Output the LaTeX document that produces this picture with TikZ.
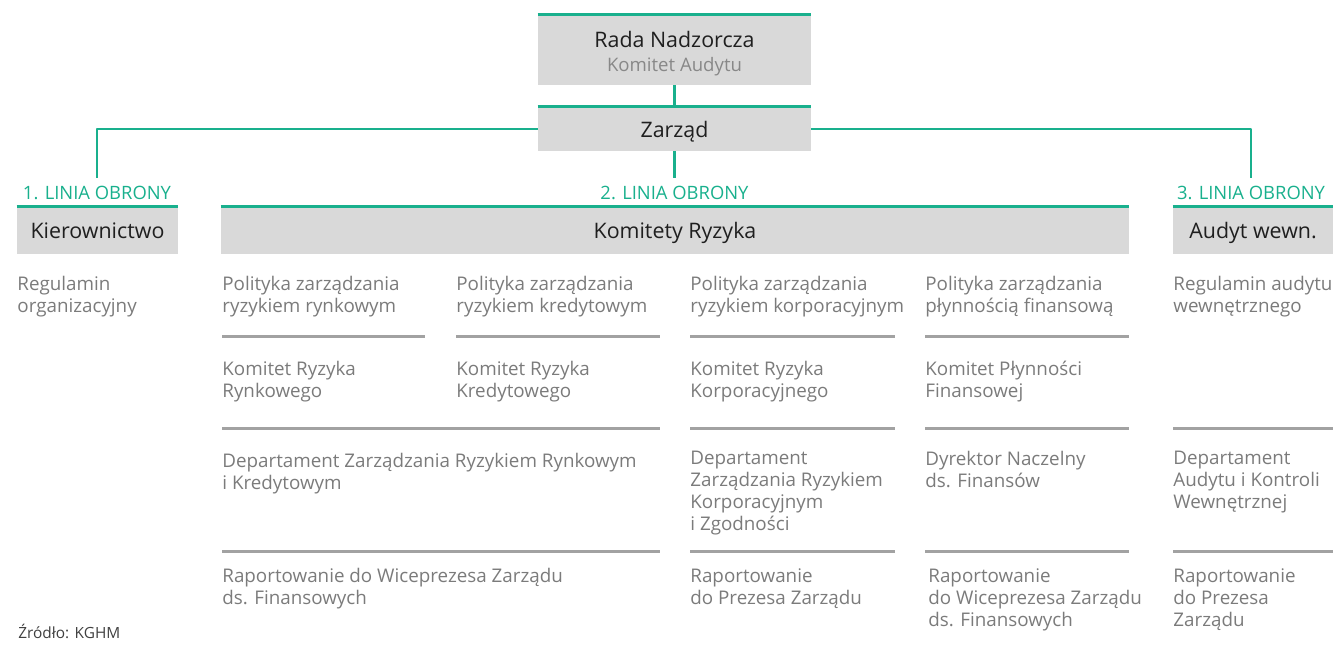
\documentclass[tikz,border=0pt]{standalone}
\usepackage{fontspec}
\setmainfont{Open Sans}
\usetikzlibrary{positioning}
\definecolor{zielony}{HTML}{19B08D}
\definecolor{tlo}{HTML}{D9D9D9}
\definecolor{szary}{HTML}{7B7B7B}
\definecolor{kreska}{HTML}{A2A2A2}
\tikzset{
	pole/.style={fill=tlo, inner sep=0pt, align=center, text=black!88, text height=8pt, text depth=0pt, font=\fontsize{10.7}{12.5}\selectfont},
	gora/.style={draw=zielony, line width=1.4pt},
	laczenie/.style={draw=zielony, line width=1.4pt},
	linia/.style={text=zielony, inner sep=0pt, outer sep=4pt, font=\fontsize{9.2}{11}\selectfont},
	opis/.style={anchor=north west, align=left, inner sep=0pt, text=szary, font=\fontsize{9.4}{11}\selectfont},
	separator/.style={draw=kreska, line width=1.5pt}
}
\begin{document}
\begin{tikzpicture}[x=0.5pt, y=-0.5pt, line join=round]
	\useasboundingbox (0,0) rectangle (1333,655);
	% pola u gory
	\node[pole, text height=21pt, minimum width=273*0.5pt, minimum height=70*0.5pt] (rada) at (674.5,50)
		{Rada Nadzorcza\\[-0.9pt]{\fontsize{9.3}{11}\selectfont\color{szary!90}Komitet Audytu}};
	\node[pole, minimum width=273*0.5pt, minimum height=44*0.5pt] (zarzad) at (674.5,129) {Zarząd};
	\node[linia] (lin1) at (97,193) {1. LINIA OBRONY};
	\node[linia] (lin2) at (674.5,193) {2. LINIA OBRONY};
	\node[linia] (lin3) at (1251,193) {3. LINIA OBRONY};
	\node[pole, minimum width=161*0.5pt, minimum height=47*0.5pt] (kier) at (97.5,230) {Kierownictwo};
	\node[pole, minimum width=908*0.5pt, minimum height=47*0.5pt] (komitety) at (675,230) {Komitety Ryzyka};
	\node[pole, minimum width=160*0.5pt, minimum height=47*0.5pt] (audyt) at (1253,230) {Audyt wewn.};
	\foreach \n in {rada,zarzad,kier,komitety,audyt}
		\draw[gora] (\n.north west) -- (\n.north east);
	% polaczenia
	\draw[laczenie] (rada) -- (zarzad);
	\draw[laczenie] (zarzad) -| (lin1);
	\draw[laczenie] (zarzad) -- (lin2);
	\draw[laczenie] (zarzad) -| (lin3);
	% opisy
	\def\r{14}
	\node[opis] (a1) at (17,290-\r) {Regulamin\\organizacyjny};
	\node[opis] (b1) at (222,290-\r) {Polityka zarządzania\\ryzykiem rynkowym};
	\node[opis] (c1) at (456,290-\r) {Polityka zarządzania\\ryzykiem kredytowym};
	\node[opis] (d1) at (690,290-\r) {Polityka zarządzania\\ryzykiem korporacyjnym};
	\node[opis] (e1) at (925,290-\r) {Polityka zarządzania\\płynnością finansową};
	\node[opis] (f1) at (1173,290-\r) {Regulamin audytu\\wewnętrznego};
	\node[opis] (b2) at (222,375-\r) {Komitet Ryzyka\\Rynkowego};
	\node[opis] (c2) at (456,375-\r) {Komitet Ryzyka\\Kredytowego};
	\node[opis] (d2) at (690,375-\r) {Komitet Ryzyka\\Korporacyjnego};
	\node[opis] (e2) at (925,375-\r) {Komitet Płynności\\Finansowej};
	\node[opis] (b3) at (222,467-\r) {Departament Zarządzania Ryzykiem Rynkowym\\i Kredytowym};
	\node[opis] (d3) at (690,465-\r) {Departament\\Zarządzania Ryzykiem\\Korporacyjnym\\i Zgodności};
	\node[opis] (e3) at (925,465-\r) {Dyrektor Naczelny\\ds. Finansów};
	\node[opis] (f3) at (1173,465-\r) {Departament\\Audytu i Kontroli\\Wewnętrznej};
	\node[opis] (b4) at (222,582-\r) {Raportowanie do Wiceprezesa Zarządu\\ds. Finansowych};
	\node[opis] (d4) at (690,582-\r) {Raportowanie\\do Prezesa Zarządu};
	\node[opis] (e4) at (928,582-\r) {Raportowanie\\do Wiceprezesa Zarządu\\ds. Finansowych};
	\node[opis] (f4) at (1173,582-\r) {Raportowanie\\do Prezesa\\Zarządu};
	% kreski
	\draw[separator] (222,336)--(425,336) (456,336)--(660,336) (690,336)--(895,336) (925,336)--(1129,336);
	\foreach \y in {428,551}
		\draw[separator] (222,\y)--(660,\y) (690,\y)--(895,\y) (925,\y)--(1129,\y) (1173,\y)--(1333,\y);
	\node[anchor=base west, inner sep=0pt, text=black!75, font=\fontsize{7.7}{9}\selectfont] (zrodlo) at (18,638) {Źródło: KGHM};
\end{tikzpicture}
\end{document}
